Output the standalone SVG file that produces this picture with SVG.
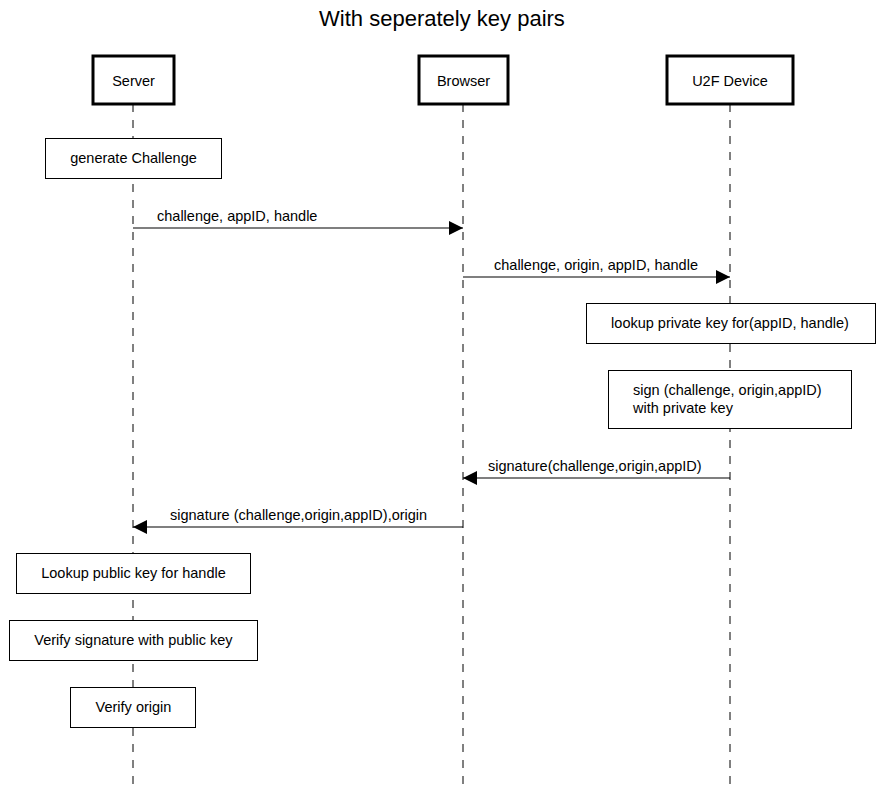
<svg xmlns="http://www.w3.org/2000/svg" width="883" height="789" viewBox="0 0 883 789">
<style>
text{font-family:"Liberation Sans",Arial,sans-serif;font-size:14.5px;fill:#000}
.actor{fill:#fff;stroke:#000;stroke-width:3}
.box{fill:#fff;stroke:#000;stroke-width:1}
.life{stroke:#000;stroke-width:1;stroke-dasharray:8,8;fill:none}
.msg{stroke:#000;stroke-width:1.2;fill:none}
.c{text-anchor:middle}
</style>
<defs>
<marker id="ah" viewBox="0 0 14 14" refX="14" refY="7" markerWidth="14" markerHeight="14" markerUnits="userSpaceOnUse" orient="auto">
<path d="M0,0 L14,7 L0,14 Z" fill="#000"/>
</marker>
</defs>
<rect width="883" height="789" fill="#fff"/>
<text x="442" y="26" class="c" style="font-size:22px">With seperately key pairs</text>
<g id="lifelines">
<line class="life" x1="133" y1="104" x2="133" y2="789"/>
<line class="life" x1="463" y1="104" x2="463" y2="789"/>
<line class="life" x1="730" y1="104" x2="730" y2="789"/>
</g>
<g id="server"><rect class="actor" x="93" y="56" width="81" height="48"/><text x="133.5" y="86" class="c">Server</text></g>
<g id="browser"><rect class="actor" x="419" y="56" width="89" height="48"/><text x="463.5" y="86" class="c">Browser</text></g>
<g id="u2f"><rect class="actor" x="667" y="56" width="126" height="48"/><text x="730" y="86" class="c">U2F Device</text></g>
<g id="genChallenge"><rect class="box" x="45.5" y="138.5" width="176" height="40"/><text x="133.5" y="163" class="c">generate Challenge</text></g>
<g id="lookupPrivate"><rect class="box" x="586.5" y="303.5" width="289" height="40"/><text x="730" y="328" class="c">lookup private key for(appID, handle)</text></g>
<g id="sign"><rect class="box" x="608.5" y="370.5" width="243" height="58"/><text x="633" y="395">sign (challenge, origin,appID)</text><text x="633" y="413">with private key</text></g>
<g id="lookupPublic"><rect class="box" x="16.5" y="553.5" width="234" height="40"/><text x="133.5" y="578" class="c">Lookup public key for handle</text></g>
<g id="verifySig"><rect class="box" x="9.5" y="620.5" width="248" height="40"/><text x="133.5" y="645" class="c">Verify signature with public key</text></g>
<g id="verifyOrigin"><rect class="box" x="70.5" y="687.5" width="125" height="40"/><text x="133.5" y="712" class="c">Verify origin</text></g>
<g id="connectors">
<line class="msg" x1="133" y1="228" x2="463" y2="228" marker-end="url(#ah)"/>
<text x="157" y="221">challenge, appID, handle</text>
<line class="msg" x1="463" y1="277" x2="730" y2="277" marker-end="url(#ah)"/>
<text x="494" y="270">challenge, origin, appID, handle</text>
<line class="msg" x1="730" y1="478" x2="463" y2="478" marker-end="url(#ah)"/>
<text x="488" y="471">signature(challenge,origin,appID)</text>
<line class="msg" x1="463" y1="527" x2="133" y2="527" marker-end="url(#ah)"/>
<text x="170" y="520">signature (challenge,origin,appID),origin</text>
</g>
</svg>
